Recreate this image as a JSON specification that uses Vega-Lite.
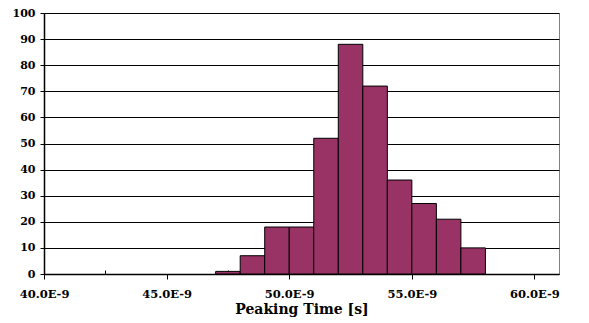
{
  "$schema": "https://vega.github.io/schema/vega-lite/v6.json",
  "width": 515,
  "height": 261,
  "autosize": "none",
  "padding": {"left": 44, "top": 13, "right": 30, "bottom": 49},
  "background": "white",
  "config": {
    "view": {"stroke": "#808080", "strokeWidth": 1},
    "font": "DejaVu Serif"
  },
  "data": {
    "values": [
      {"bin_start": 47, "bin_end": 48, "count": 1},
      {"bin_start": 48, "bin_end": 49, "count": 7},
      {"bin_start": 49, "bin_end": 50, "count": 18},
      {"bin_start": 50, "bin_end": 51, "count": 18},
      {"bin_start": 51, "bin_end": 52, "count": 52},
      {"bin_start": 52, "bin_end": 53, "count": 88},
      {"bin_start": 53, "bin_end": 54, "count": 72},
      {"bin_start": 54, "bin_end": 55, "count": 36},
      {"bin_start": 55, "bin_end": 56, "count": 27},
      {"bin_start": 56, "bin_end": 57, "count": 21},
      {"bin_start": 57, "bin_end": 58, "count": 10}
    ]
  },
  "layer": [
    {
      "mark": {"type": "bar", "fill": "#993366", "stroke": "black", "strokeWidth": 1},
      "encoding": {
        "x": {
          "field": "bin_start",
          "type": "quantitative",
          "scale": {"domain": [40, 61], "nice": false, "zero": false},
          "axis": {
            "orient": "bottom",
            "values": [40, 45, 50, 55, 60],
            "labelExpr": "format(datum.value, '.1f') + 'E-9'",
            "title": "Peaking Time [s]",
            "titleFont": "DejaVu Serif",
            "titleFontSize": 14,
            "titleFontWeight": "bold",
            "titleColor": "black",
            "titlePadding": 3,
            "labelFont": "DejaVu Serif",
            "labelFontSize": 11.5,
            "labelFontWeight": "bold",
            "labelColor": "black",
            "labelPadding": 9,
            "labelFlush": false,
            "labelOverlap": false,
            "tickSize": 5,
            "tickColor": "black",
            "domainColor": "black",
            "domainWidth": 1.5,
            "grid": false
          }
        },
        "x2": {"field": "bin_end"},
        "y": {
          "field": "count",
          "type": "quantitative",
          "scale": {"domain": [0, 100], "nice": false},
          "axis": {
            "values": [0, 10, 20, 30, 40, 50, 60, 70, 80, 90, 100],
            "title": null,
            "labelFont": "DejaVu Serif",
            "labelFontSize": 11,
            "labelFontWeight": "bold",
            "labelColor": "black",
            "labelPadding": 5,
            "tickSize": 4,
            "tickColor": "black",
            "domainColor": "black",
            "domainWidth": 1.5,
            "grid": true,
            "gridColor": "black",
            "gridWidth": 1,
            "gridOpacity": 1
          }
        },
        "y2": {"datum": 0}
      }
    },
    {
      "mark": {"type": "rule", "opacity": 0},
      "encoding": {
        "x": {
          "field": "bin_start",
          "type": "quantitative",
          "axis": {
            "orient": "bottom",
            "values": [42.5, 47.5, 52.5, 57.5],
            "labels": false,
            "domain": false,
            "grid": false,
            "title": null,
            "tickSize": -4,
            "tickColor": "black"
          }
        }
      }
    }
  ],
  "resolve": {"axis": {"x": "independent"}}
}
